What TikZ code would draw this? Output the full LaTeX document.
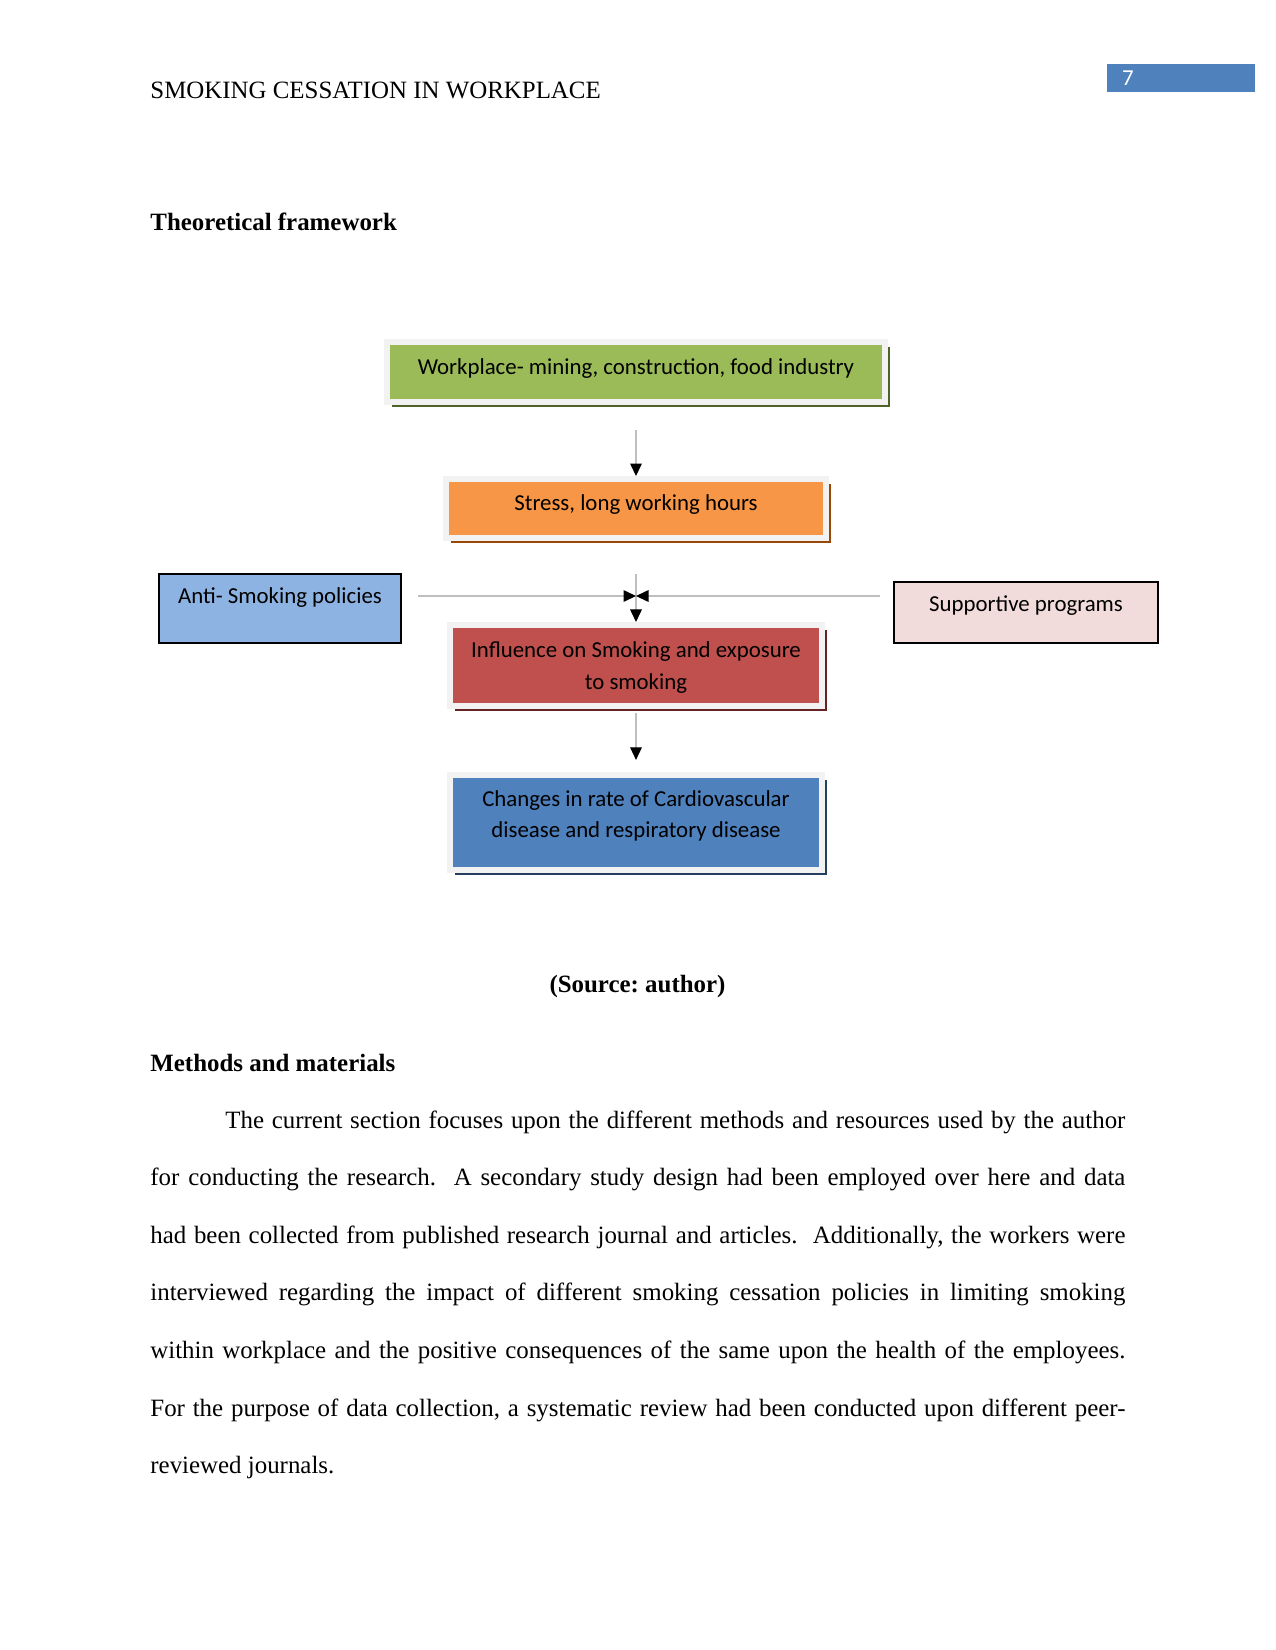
\documentclass[tikz,border=0pt]{standalone}
\usepackage{fontspec}
\setmainfont{Liberation Serif}
\newfontfamily\calibri{Carlito}
\usetikzlibrary{arrows.meta,shadows}
\frenchspacing

\definecolor{pageblue}{HTML}{4F81BD}
\definecolor{wpgreen}{HTML}{9BBB59}
\definecolor{wpgreendark}{HTML}{4F6228}
\definecolor{stressorange}{HTML}{F79646}
\definecolor{stressorangedark}{HTML}{984806}
\definecolor{smokered}{HTML}{C0504D}
\definecolor{smokereddark}{HTML}{632423}
\definecolor{diseaseblue}{HTML}{4F81BD}
\definecolor{diseasebluedark}{HTML}{243F60}
\definecolor{policyblue}{HTML}{8DB3E2}
\definecolor{supportpink}{HTML}{F2DCDB}

\begin{document}
\begin{tikzpicture}[
    x=0.48bp, y=-0.48bp,
    every node/.style={font=\fontsize{12}{14}\selectfont},
    heading/.style={anchor=base west, inner sep=0pt, font=\bfseries\fontsize{12}{14}\selectfont},
    tier/.style 2 args={draw=black!5, line width=2.9bp, fill=#1, inner sep=0pt, align=center,
        font=\calibri\fontsize{11}{15}\selectfont,
        drop shadow={shadow xshift=2.4bp, shadow yshift=-2.4bp, fill=#2, opacity=1}},
    side/.style={draw=black, line width=0.6bp, fill=#1, inner sep=0pt,
        font=\calibri\fontsize{11}{15}\selectfont},
    arr/.style={-{Triangle[length=6bp, width=5.6bp, color=black]}, draw=black!25, line width=0.5bp}
]
\useasboundingbox (0,0) rectangle (1275,1650);

% Page header
\node[anchor=base west, inner sep=0pt] (header) at (150,98) {SMOKING CESSATION IN WORKPLACE};
\node[fill=pageblue, minimum width=71.5bp, minimum height=13.4bp, inner sep=0pt] (pagebox) at (1181,78) {};
\node[text=white, font=\calibri\fontsize{11}{13}\selectfont] (pagenum) at (1128,78) {7};

\node[heading] (theory) at (150,230) {Theoretical framework};

% Framework stack
\node[tier={wpgreen}{wpgreendark}, minimum width=239bp, minimum height=28.8bp, text depth=5.5bp] (workplace) at (636,372)
    {Workplace- mining, construction, food industry};
\node[tier={stressorange}{stressorangedark}, minimum width=182bp, minimum height=28.3bp, text depth=5.5bp] (stress) at (636,508.5)
    {Stress, long working hours};
\node[tier={smokered}{smokereddark}, minimum width=178.6bp, minimum height=38.9bp, text depth=-1.3bp] (influence) at (636,665.5)
    {Influence on Smoking and exposure\\to smoking};
\node[tier={diseaseblue}{diseasebluedark}, minimum width=179bp, minimum height=45.6bp, text depth=8.1bp] (changes) at (636,822.5)
    {Changes in rate of Cardiovascular\\disease and respiratory disease};

% Side boxes
\node[side=policyblue, minimum width=116.2bp, minimum height=33.1bp, text depth=12bp] (anti) at (280,608.5)
    {Anti- Smoking policies};
\node[side=supportpink, minimum width=126.7bp, minimum height=29.3bp, text depth=9bp] (support) at (1026,612.5)
    {Supportive programs};
\coordinate (junction) at (636,596);

% Arrows
\draw[arr, shorten <=12bp] (workplace) -- (stress);
\draw[arr, shorten <=16bp] (stress) -- (influence);
\draw[arr, shorten <=7.7bp] (anti.east |- junction) -- (junction);
\draw[arr, shorten <=6.2bp] (support.west |- junction) -- (junction);
\draw[arr, shorten <=2bp, shorten >=5.8bp] (influence) -- (changes);

\node[anchor=base, inner sep=0pt, font=\bfseries\fontsize{12}{14}\selectfont] (source) at (637.5,992) {(Source: author)};

% Methods section
\node[heading] (methods) at (150,1071) {Methods and materials};
\node[anchor=base west, inner sep=0pt, text width=6.5in, align=justify,
    font=\fontsize{12}{27.75}\selectfont] (body) at (150,1128)
    {\hspace*{0.5in}The current section focuses upon the different methods and resources used by the author\linebreak
    for conducting the research.\ \ A secondary study design had been employed over here and data\linebreak
    had been collected from published research journal and articles.\ \ Additionally, the workers were\linebreak
    interviewed regarding the impact of different smoking cessation policies in limiting smoking\linebreak
    within workplace and the positive consequences of the same upon the health of the employees.\linebreak
    For the purpose of data collection, a systematic review had been conducted upon different peer-\linebreak
    reviewed journals.};
\end{tikzpicture}
\end{document}
